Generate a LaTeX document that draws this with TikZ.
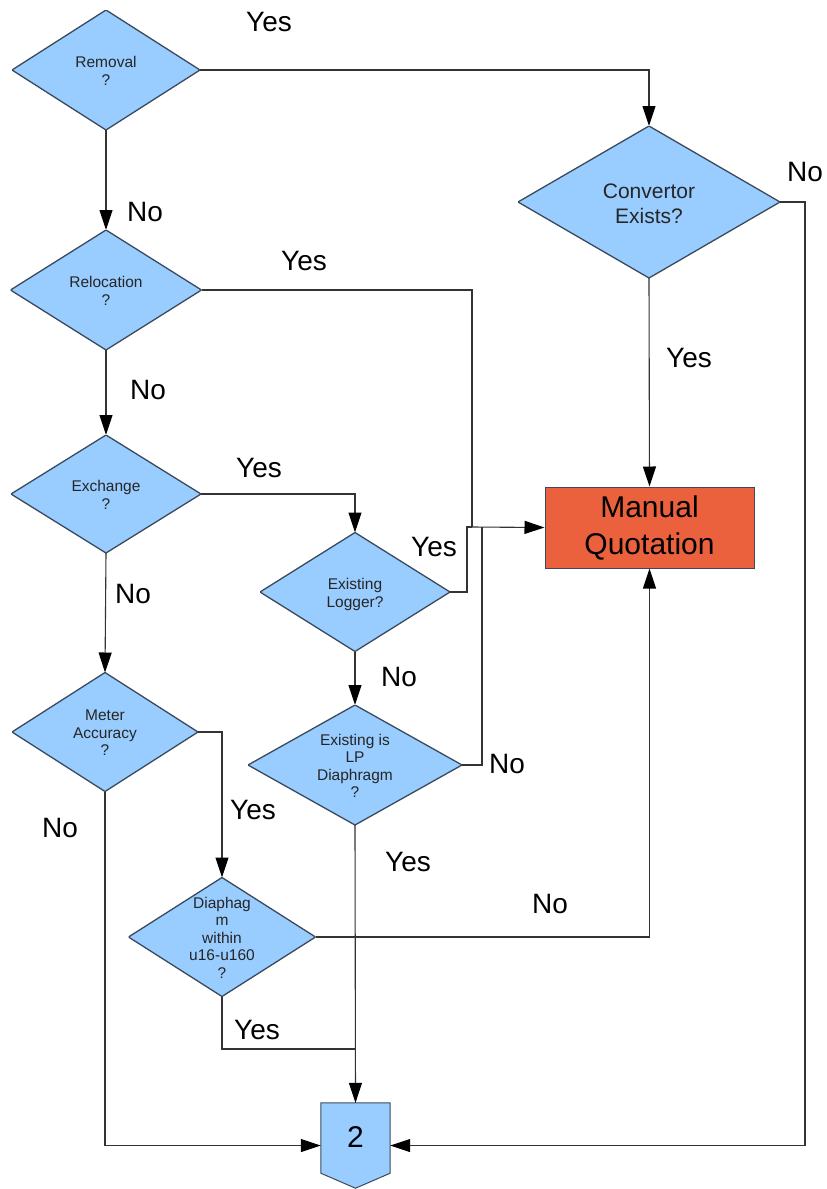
\documentclass[tikz,border=0pt]{standalone}
\usepackage{fontspec}
\setmainfont{Liberation Sans}
\usetikzlibrary{arrows.meta}

\definecolor{decfill}{HTML}{99CCFF}
\definecolor{decedge}{HTML}{3A4A5C}
\definecolor{quotefill}{HTML}{EB613D}
\definecolor{wire}{HTML}{333333}

% text placed in a zero-size box, so the shape size comes only from the style
\newcommand{\dlab}[1]{\makebox[0pt]{\raisebox{-0.42em}[0pt][0pt]{\begin{tabular}[c]{@{}c@{}}#1\end{tabular}}}}

\tikzset{
  decision/.style n args={2}{rectangle, minimum width=#1, minimum height=#2,
    inner sep=0pt, outer sep=0pt,
    font=\fontsize{15.5}{17.5}\selectfont, text=black!85,
    path picture={
      \fill[decfill] (path picture bounding box.north) -- (path picture bounding box.east)
        -- (path picture bounding box.south) -- (path picture bounding box.west) -- cycle;
      \draw[decedge, line width=1.3pt] (path picture bounding box.north) -- (path picture bounding box.east)
        -- (path picture bounding box.south) -- (path picture bounding box.west) -- cycle;
    }},
  quote/.style={rectangle, draw=decedge, line width=1pt, fill=quotefill,
    minimum width=209pt, minimum height=81pt, inner sep=0pt, align=center,
    font=\fontsize{30}{37}\selectfont},
  lbl/.style={font=\fontsize{28}{30}\selectfont, inner sep=0pt},
  flow/.style={draw=wire, line width=1.1pt},
  arr/.style={flow, -{Triangle[length=20pt, width=13pt, color=black]}},
}

\begin{document}
\begin{tikzpicture}[x=1pt, y=-1pt]
\useasboundingbox (0,0) rectangle (827,1189);

% decisions
\node[decision={188pt}{120pt}] (rem) at (106,70) {\dlab{Removal\\?}};
\node[decision={191pt}{120pt}] (rel) at (106,290) {\dlab{Relocation\\?}};
\node[decision={190pt}{118pt}] (exc) at (106,494) {\dlab{Exchange\\?}};
\node[decision={186pt}{119pt}] (acc) at (105,732) {\dlab{Meter\\Accuracy\\?}};
\node[decision={190pt}{119pt}] (log) at (355,592) {\dlab{Existing\\Logger?}};
\node[decision={214pt}{120pt}] (lpd) at (355,765) {\dlab{Existing is\\LP\\Diaphragm\\?}};
\node[decision={187pt}{119pt}] (dia) at (222,937) {\dlab{Diaphag\\m\\within\\u16-u160\\?}};
\node[decision={262pt}{152pt}, font=\fontsize{21}{25}\selectfont] (cnv) at (649,202) {\dlab{Convertor\\Exists?}};

% outcome
\node[quote] (mq) at (649.5,527.5) {Manual\\Quotation};

% off-page connector
\node[rectangle, minimum width=69pt, minimum height=85pt, inner sep=0pt] (two) at (355.5,1145.5) {};
\filldraw[fill=decfill, draw=decedge, line width=1pt]
  (two.north west) -- (two.north east) -- ([yshift=15pt]two.south east)
  -- (two.south) -- ([yshift=15pt]two.south west) -- cycle;
\node[font=\fontsize{30}{32}\selectfont, inner sep=0pt] (twolbl) at (355.5,1137) {2};

% junction points of the routed connectors
\coordinate (jA) at (472,527);
\coordinate (jB) at (482,527);
\coordinate (jC) at (355,1049);

% connectors
\draw[arr] (rem.east) -| (cnv.north);
\draw[arr] (rem.south) -- (rel.north);
\draw[arr] (rel.south) -- (exc.north);
\draw[arr] (exc.south) -- (acc.north);
\draw[arr] (exc.east) -| (log.north);
\draw[arr] (log.south) -- (lpd.north);
\draw[arr] (acc.east) -| (dia.north);
\draw[flow] (rel.east) -| (jA);
\draw[flow] (log.east) -- ++(17,0) |- (jA);
\draw[flow] (lpd.east) -| (jB);
\draw[arr] (jA) -- (mq.west);
\draw[arr] (cnv.south) -- (mq.north);
\draw[arr] (dia.east) -| (mq.south);
\draw[arr] (lpd.south) -- (two.north);
\draw[flow] (dia.south) |- (jC);
\draw[arr] (acc.south) |- (two.west);
\draw[arr] (cnv.east) -- ++(25,0) |- (two.east);

% branch labels
\node[lbl] (l1) at (269,22) {Yes};
\node[lbl] (l2) at (145,212) {No};
\node[lbl] (l3) at (304,261) {Yes};
\node[lbl] (l4) at (148,390) {No};
\node[lbl] (l5) at (259,468) {Yes};
\node[lbl] (l6) at (434,547) {Yes};
\node[lbl] (l7) at (133,594) {No};
\node[lbl] (l8) at (399,677) {No};
\node[lbl] (l9) at (507,764) {No};
\node[lbl] (l10) at (253,810) {Yes};
\node[lbl] (l11) at (60,828) {No};
\node[lbl] (l12) at (408,862) {Yes};
\node[lbl] (l13) at (550,904) {No};
\node[lbl] (l14) at (257,1030) {Yes};
\node[lbl] (l15) at (689,358) {Yes};
\node[lbl] (l16) at (805,172) {No};
\end{tikzpicture}
\end{document}
